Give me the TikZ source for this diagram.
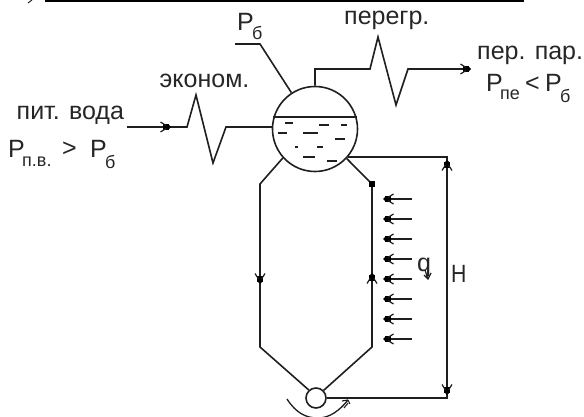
\documentclass[tikz,border=0pt]{standalone}
\usepackage{fontspec}
\setmainfont{Liberation Sans}
\tikzset{
  x=1pt,y=-1pt,
  ink/.style={draw=black!88,line width=1.6pt,line join=miter},
  txt/.style={inner sep=0pt,anchor=base west,text=black!85,font=\fontsize{25}{25}\selectfont},
  subt/.style={inner sep=0pt,anchor=base west,text=black!85,font=\fontsize{18}{18}\selectfont},
  arrw/.pic={
    \fill[black] (-2.8,-2.8) rectangle (2.8,2.8);
    \fill[black] (2.5,-2.5) -- (5,0) -- (2.5,2.5) -- cycle;
    \draw[black!88,line width=1.2pt] (-5.5,-5) -- (0,-1.5) (-5.5,5) -- (0,1.5);
  }
}
\begin{document}
\begin{tikzpicture}
\useasboundingbox (0,0) rectangle (584,417);
\clip (0,0) rectangle (584,417);
% top fragment
\fill[black] (45,0) rectangle (524,2.5);
\draw[black!85,line width=1pt] (28,3) -- (32,0);
% drum
\node[circle,draw=black!88,line width=1.6pt,minimum size=85pt,inner sep=0pt] (drum) at (315,129) {};
\coordinate (wl) at (273.4,117);
\coordinate (wr) at (356.6,117);
\draw[ink] (wl) -- (wr);
\foreach \a/\b/\y in {285/293/123,319/329/125,341/347/125,278/287/133,303/318/133,335/345/139,295/298/147,317/323/147,303/315/157,327/337/161}
  \draw[ink,line width=1.3pt] (\a,\y) -- (\b,\y);
% lower header
\node[circle,draw=black!88,line width=1.6pt,minimum size=20pt,inner sep=0pt] (hdr) at (316,398) {};
% P_b lead
\coordinate (pa) at (235,44);
\coordinate (pb) at (260,44);
\draw[ink] (pa) -- (pb) -- (drum.{123});
% feed water line with economiser
\coordinate (f0) at (127,127);
\coordinate (f1) at (187,127);
\coordinate (f2) at (196,95);
\coordinate (f3) at (213,163);
\coordinate (f4) at (226,127);
\coordinate (f5) at (272.5,127);
\draw[ink] (f0) -- (f1) -- (f2) -- (f3) -- (f4) -- (f5);
\pic[rotate=0] at (166,127) {arrw};
% steam line with superheater
\coordinate (s1) at (315,69);
\coordinate (s2) at (370,69);
\coordinate (s3) at (378,37);
\coordinate (s4) at (396,105);
\coordinate (s5) at (408,69);
\coordinate (s6) at (467,69);
\draw[ink] (drum.north) -- (s1) -- (s2) -- (s3) -- (s4) -- (s5) -- (s6);
\pic[rotate=0] at (466,69) {arrw};
% downcomer
\coordinate (d1) at (260,184);
\coordinate (d2) at (260,347);
\draw[ink] (drum.{222}) -- (d1) -- (d2) -- (hdr.{132});
\pic[rotate=-90] at (260,279) {arrw};
% riser
\coordinate (r1) at (372,184);
\coordinate (r2) at (372,347);
\draw[ink] (drum.{-43}) -- (r1) -- (r2) -- (hdr.{45});
\fill[black] (r1) ++(-2.8,-2.8) rectangle ++(5.6,5.6);
\pic[rotate=90] at (372,278) {arrw};
% H loop
\coordinate (h1) at (447,157);
\coordinate (h0) at (348,157);
\coordinate (h2) at (447,398);
\draw[ink] (h0) -- (h1) -- (h2) -- (hdr.east);
\pic[rotate=90] at (447,165) {arrw};
\pic[rotate=-90] at (447,390) {arrw};
% heat arrows
\foreach \y in {199,219,239,259,279,299,319,339}{
  \coordinate (qa\y) at (412,\y);
  \coordinate (qb\y) at (388,\y);
  \draw[ink,line width=1.3pt] (qa\y) -- (qb\y);
  \pic[rotate=180] at (388,\y) {arrw};
}
% circulation arc
\coordinate (c1) at (287,399);
\coordinate (c2) at (348,400);
\draw[ink,line width=1.3pt] (c1) .. controls (296,413) and (306,418) .. (318,418) .. controls (330,418) and (340,410) .. (c2);
\draw[ink,line width=1.1pt] (c2) -- (350,404) (c2) -- (342,401) (344,408) -- (348,403);
% labels
\node[txt] (t1) at (16.5,120) {пит. вода};
\node[txt] (t2) at (159.5,88) {эконом.};
\node[txt] (t3) at (344,25) {перегр.};
\node[txt] (t4) at (477,60) {пер. пар.};
\node[txt] (p1) at (237,31) {P};
\node[subt] (p1s) at (252,40) {б};
\node[txt] (p2) at (8,158) {P};
\node[subt] (p2s) at (22,167) {п.в.};
\node[txt] (p2g) at (62,157) {>};
\node[txt] (p3) at (90,158) {P};
\node[subt] (p3s) at (105,168) {б};
\node[txt] (p4) at (486,92) {P};
\node[subt] (p4s) at (500,100) {пе};
\node[txt] (p4l) at (525,92) {<};
\node[txt] (p5) at (545,92) {P};
\node[subt] (p5s) at (560,103) {б};
\node[txt] (qq) at (417,271) {q};
\draw[ink,line width=1.2pt] (425,270) -- (428,279) (424,275) -- (428,279) -- (431,273);
\node[txt,xscale=.85] (hh) at (451,282) {H};
\end{tikzpicture}
\end{document}
